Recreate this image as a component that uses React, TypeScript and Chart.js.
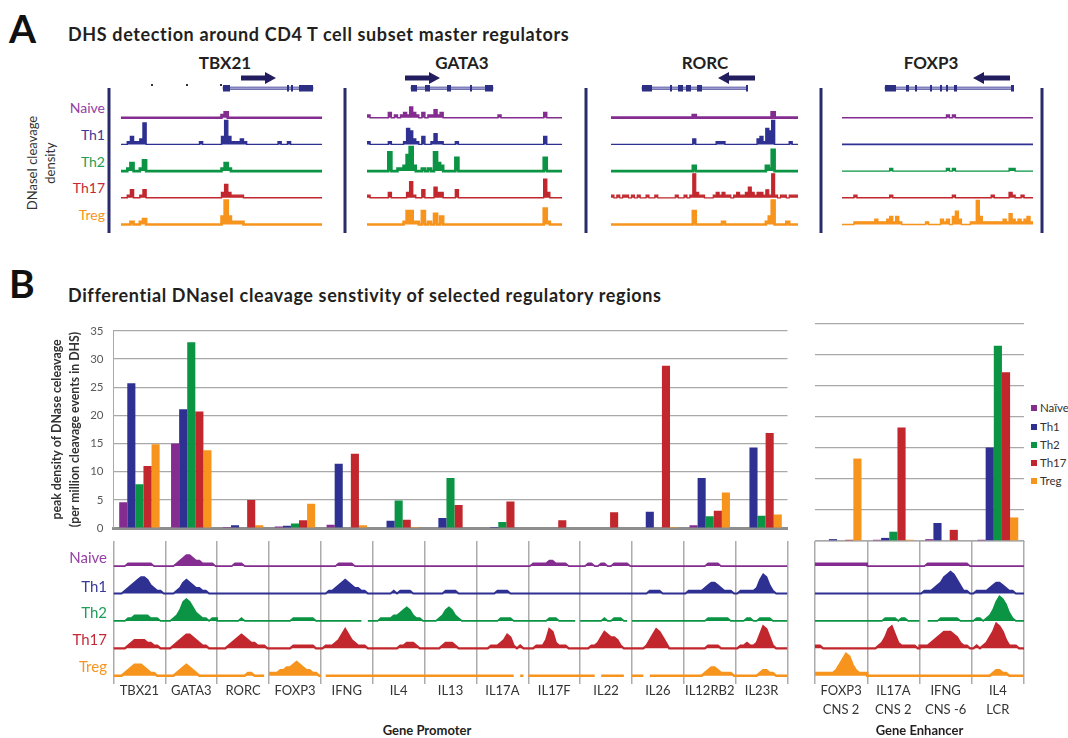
import React, { useEffect, useRef } from "react";
import { Chart, registerables } from "chart.js";

Chart.register(...registerables);

const FONT = "Lato, 'Open Sans', 'Liberation Sans', sans-serif";
Chart.defaults.font.family = FONT;

// ---------------- data ----------------
const seriesNames = ["Naive", "Th1", "Th2", "Th17", "Treg"];
const legendNames = ["Naïve", "Th1", "Th2", "Th17", "Treg"];
const seriesColors = ["#842C90", "#2E3192", "#0B9444", "#C1272D", "#F7941D"];
const labelColors = ["#9440A4", "#383A9A", "#1E9E58", "#C42A36", "#F7941D"];

const promoterCategories = ["TBX21", "GATA3", "RORC", "FOXP3", "IFNG", "IL4", "IL13", "IL17A", "IL17F", "IL22", "IL26", "IL12RB2", "IL23R"];
const enhancerCategories = [["FOXP3", "CNS 2"], ["IL17A", "CNS 2"], ["IFNG", "CNS -6"], ["IL4", "LCR"]];

const naivePromoter = [4.6, 15.0, 0.2, 0.3, 0.6, 0.0, 0.0, 0.1, 0.1, 0.1, 0.1, 0.5, 0.1];
const th1Promoter = [25.7, 21.1, 0.5, 0.4, 11.4, 1.3, 1.8, 0.2, 0.1, 0.1, 2.9, 8.9, 14.3];
const th2Promoter = [7.8, 33.0, 0.1, 0.8, 0.1, 4.9, 8.9, 1.1, 0.0, 0.1, 0.1, 2.1, 2.2];
const th17Promoter = [11.0, 20.7, 5.0, 1.4, 13.2, 1.5, 4.1, 4.7, 1.4, 2.8, 28.8, 3.1, 16.9];
const tregPromoter = [14.9, 13.8, 0.5, 4.3, 0.5, 0.2, 0.1, 0.1, 0.1, 0.1, 0.2, 6.3, 2.4];

const naiveEnhancer = [0.1, 0.2, 0.3, 0.2];
const th1Enhancer = [0.3, 0.5, 2.9, 15.1];
const th2Enhancer = [0.0, 1.5, 0.0, 31.5];
const th17Enhancer = [0.2, 18.3, 1.8, 27.2];
const tregEnhancer = [13.3, 0.2, 0.1, 3.8];

const yTickValues = [0, 5, 10, 15, 20, 25, 30, 35];

// Panel A signal profiles (one char per sample: 0-9 height, order Naive, Th1, Th2, Th17, Treg)
const tbx21Profiles = [
  "0000000000000000" + "0000000000000000" + "1200000000000000" + "0000000000000000",
  "0013112800000000" + "0000000001000000" + "3931112100000000" + "0010010000000000",
  "0013001400000000" + "0000000000000000" + "1310000000000000" + "0000000000000000",
  "0013001300000000" + "0000000000000000" + "2521111000000000" + "0000000000000000",
  "0001001200000000" + "0000000000000000" + "3931111000000000" + "0000000000000000",
];
const gata3Profiles = [
  "1000000201012142" + "1020113120000000" + "0000000000010000" + "0000000000200000",
  "1000000100001652" + "1030014110000100" + "0000000000000000" + "0000000000300000",
  "0000000700112692" + "0010107320000500" + "0000000000000000" + "0000000000500000",
  "1000000200000261" + "0030004220000300" + "0000000000000000" + "0000000000720000",
  "0000000000001551" + "1050104030000000" + "0000000000000000" + "0000000000610000",
];
const rorcProfiles = [
  "0000000000000000" + "0000000000001000" + "0000000000000000" + "0000000200000000",
  "0000000000000000" + "0000000000002000" + "0000111000000000" + "0023165900000100",
  "0000000000000000" + "0000000000002000" + "0000000000000000" + "0000021800000000",
  "1010110101001001" + "0000001001019211" + "0001212110121124" + "2122131910110111",
  "0000000000000000" + "0000000000005000" + "0000001000000000" + "0000013900001000",
];
const foxp3Profiles = [
  "0000000000000000" + "0000000000000000" + "0001010000000000" + "0000000000000000",
  "0000000000000000" + "0000000000000000" + "0000000000000000" + "0000000000000000",
  "0000000000000000" + "1000000000000000" + "0001010000000000" + "0000000011000000",
  "0000100000000000" + "1000000000000000" + "0000010000000000" + "0010000021001000",
  "0000111111121112" + "3131000000001000" + "0212035200011931" + "1111112142121231",
];

// Panel B signal profiles per region (space = gap in track)
const tbx21Track = ["0000111111110000", "0001234566532110", "0000112222211100", "0000123333221100", "0001234443211000"];
const gata3Track = ["0001234432211110", "0001245432211000", "0012478753211011", "0012345543211000", "0001234321000000"];
const rorcTrack = ["0000011100000000", "0000000000000000", "0000000100000000", "0001234543221110", "000000000110000 "];
const foxp3Track = ["0000000000000000", "0000000000000000", "0000000111111100", "0000000111111100", "1112233454322110"];
const ifngTrack = ["0000011111000000", "0011234543221100", "0000000000000 00", "0111235753211100", " 000000000000000"];
const il4Track = ["0000000000000000", "0000001011110000", "0011112234542110", "0000000011222100", "0000000000000000"];
const il13Track = ["0000000000000000", "0000001111000000", "0000124542100000", "0000012221000000", "0000000000000000"];
const il17aTrack = ["0000000000000000", "0000001111000000", "0000000111100000", "0000111235410100", "000000000000 00 "];
const il17fTrack = ["0111112211110000", "0000000000000000", "000000111000000 ", "0011137621110000", "0000000000000000"];
const il22Track = ["0011001100111110", "0000000000000000", "000000010011100 ", "0001124654431000", "00000 00000000  "];
const il26Track = ["0000000000000000", "0000011110000000", "0000000000000000", "0000135764200000", "0000 00000000000"];
const il12rb2Track = ["0000000111100000", "0111112344321110", "0000000111111100", "0000000111100000", "0000001233211110"];
const il23rTrack = ["0000000000000000", "0111112576310000", "0001100111100000", "0112112587410000", "0000000122110000"];

const foxp3Cns2Track = ["1111111111111111", "0000000000000000", "0000000000000000", "1100000000000000", "1111112468742111"];
const il17aCns2Track = ["0000000000000000", "0000000000000000", "0000011110110000", "0001247852111110", "0000000000000000"];
const ifngCns6Track = ["0011111111111110", "0111234678753110", "  00001111110000", "1112345666542110", "0000000000000000"];
const il4LcrTrack = ["0000000000000000", "0111123443211000", "0110124798631000", "0101246986311100", "0000001221100000"];

const promoterTracks = [tbx21Track, gata3Track, rorcTrack, foxp3Track, ifngTrack, il4Track, il13Track, il17aTrack, il17fTrack, il22Track, il26Track, il12rb2Track, il23rTrack];
const enhancerTracks = [foxp3Cns2Track, il17aCns2Track, ifngCns6Track, il4LcrTrack];

// ---------------- helpers ----------------
function buildTrack(regions: string[][], s: number, offset: number) {
  const pts: { x: number; y: number | null }[] = [];
  regions.forEach((profiles, r) => {
    const p = profiles[s];
    const n = p.length;
    for (let j = 0; j < n; j++) {
      const ch = p[j];
      const v = ch === " " ? null : offset + Number(ch);
      if (j === 0) pts.push({ x: r, y: v });
      pts.push({ x: r + (j + 0.5) / n, y: v });
      if (j === n - 1) pts.push({ x: r + 1, y: v });
    }
  });
  return pts;
}

function ChartCanvas({ left, top, width, height, make }: any) {
  const ref = useRef<HTMLCanvasElement>(null);
  useEffect(() => {
    const chart = new Chart(ref.current as HTMLCanvasElement, make());
    return () => chart.destroy();
  }, []);
  return (
    <canvas
      ref={ref}
      width={width}
      height={height}
      style={{ position: "absolute", left, top, width, height }}
    />
  );
}

function barConfig(labels: any[], values: number[][], main: boolean, pad: any, yWidth: number) {
  return {
    type: "bar",
    data: {
      labels,
      datasets: seriesNames.map((n, s) => ({
        label: n,
        data: values[s],
        backgroundColor: seriesColors[s],
        borderWidth: 0,
        categoryPercentage: 0.78,
        barPercentage: 1.0,
      })),
    },
    options: {
      animation: false,
      responsive: false,
      events: [],
      layout: { padding: pad },
      plugins: { legend: { display: false }, tooltip: { enabled: false } },
      scales: {
        x: {
          display: true,
          z: 1,
          grid: { display: false },
          ticks: { display: false },
          border: main ? { display: true, color: "#8e8e8e", width: 3 } : { display: true, color: "#c4c4c4", width: 1 },
          afterFit: (sc: any) => { sc.height = 0; },
        },
        y: {
          min: 0,
          max: 35,
          afterBuildTicks: (sc: any) => { sc.ticks = yTickValues.map((v) => ({ value: v })); },
          ticks: { display: main, color: "#595959", font: { size: 11.5 }, padding: 10 },
          grid: { color: "#a9a9a9", lineWidth: 1.3, drawTicks: false },
          border: { display: main, color: "#a9a9a9", width: 1 },
          title: main
            ? {
                display: true,
                text: ["peak density of DNase celeavage", "(per million cleavage events in DHS)"],
                font: { size: 12.3, weight: "bold", lineHeight: 1.45 },
                color: "#333",
                padding: 0,
              }
            : { display: false },
          afterFit: (sc: any) => { sc.width = yWidth; },
        },
      },
    },
  };
}

function trackConfig(regions: string[][], widths: number[], o: any) {
  const R = regions.length;
  const scales: any = {
    y: { display: false, min: o.yMin, max: o.yMax },
  };
  if (o.labels) {
    scales.x = {
      type: "linear",
      min: 0,
      max: R,
      position: "bottom",
      ticks: { display: false },
      grid: { color: "#acacac", lineWidth: 1.5, drawTicks: false },
      border: { display: false },
      afterBuildTicks: (sc: any) => { sc.ticks = regions.map((_, i) => ({ value: i })).concat([{ value: R }]); },
      afterFit: (sc: any) => { sc.height = 0; },
    };
    scales.x2 = {
      type: "linear",
      min: 0,
      max: R,
      position: "bottom",
      grid: { display: false },
      border: { display: false },
      afterBuildTicks: (sc: any) => { sc.ticks = o.labels.map((_: any, i: number) => ({ value: i + 0.5 })); },
      ticks: {
        autoSkip: false,
        maxRotation: 0,
        color: "#333",
        padding: o.labelPad,
        font: { size: 13, lineHeight: 1.5 },
        callback: (v: number) => o.labels[Math.floor(v)],
      },
      afterFit: (sc: any) => { sc.height = o.labelHeight; },
    };
  } else {
    scales.x = { type: "linear", min: 0, max: R, display: false };
  }
  return {
    type: "line",
    data: {
      datasets: seriesNames.map((n, s) => {
        const off = (4 - s) * 10;
        return {
          label: n,
          data: buildTrack(regions, s, off),
          borderColor: seriesColors[s],
          backgroundColor: seriesColors[s],
          borderWidth: widths[s],
          pointRadius: 0,
          fill: { value: off },
          stepped: o.stepped ? "middle" : false,
          tension: 0,
          spanGaps: false,
        };
      }),
    },
    options: {
      animation: false,
      responsive: false,
      events: [],
      layout: { padding: o.pad },
      plugins: { legend: { display: false }, tooltip: { enabled: false } },
      scales,
    },
  };
}

function T({ x, y, size, bold, color, align, children, style }: any) {
  const s: any = {
    position: "absolute",
    top: y - size * 0.6,
    fontSize: size,
    lineHeight: `${size * 1.2}px`,
    fontWeight: bold ? 700 : 400,
    color: color || "#231f20",
    whiteSpace: "nowrap",
    fontFamily: FONT,
  };
  if (align === "right") s.right = 1068 - x;
  else if (align === "center") { s.left = x; s.transform = "translateX(-50%)"; }
  else s.left = x;
  return <div style={{ ...s, ...(style || {}) }}>{children}</div>;
}

// annotation geometry for the gene models of panel A
const geneModels = [
  { name: "TBX21", cx: 225, arrow: [241, 276], dir: 1, line: [223, 313], exons: [[223, 230], [287, 289], [291, 293], [299, 313]], dots: [151, 186, 220] },
  { name: "GATA3", cx: 462, arrow: [405, 440], dir: 1, line: [411, 493], exons: [[411, 417], [425, 430], [447, 451], [470, 472], [485, 493]], dots: [] },
  { name: "RORC", cx: 705, arrow: [718, 755], dir: -1, line: [642, 747], exons: [[642, 652], [670, 672], [678, 683], [686, 691], [697, 702], [746, 748]], dots: [] },
  { name: "FOXP3", cx: 931, arrow: [973, 1010], dir: -1, line: [885, 1013], exons: [[885, 896], [906, 909], [915, 917], [930, 932], [940, 942], [946, 948], [954, 957], [1011, 1014]], dots: [] },
];
const dividerX = [109, 345, 586, 821, 1042];

const trackAWidths = [
  [2.6, 1.4, 2.6, 1.4, 2.6],
  [1.4, 1.4, 2.6, 1.4, 2.6],
  [2.8, 1.4, 2.6, 1.2, 2.6],
  [1.4, 1.6, 1.4, 1.4, 1.4],
];
const trackAPos = [
  { left: 121, width: 201 },
  { left: 367, width: 195 },
  { left: 611, width: 187 },
  { left: 842, width: 191 },
];
const trackBWidths = [1.6, 1.8, 1.6, 2.2, 2.4];

export default function App() {
  const aProfiles = [tbx21Profiles, gata3Profiles, rorcProfiles, foxp3Profiles];
  const unitA = 2.67;
  const baseA = 224.5;
  const topA = 95;
  const yMaxA = (baseA - topA) / unitA;
  const yMinA = -(229 - baseA) / unitA;

  const unitB = 2.74;
  const baseB = 675.7;
  const topB = 541;
  const bottomB = 684;
  const yMaxB = (baseB - topB) / unitB;
  const yMinB = -(bottomB - baseB) / unitB;

  const trackLabelYA = [108, 135, 162, 188, 215];
  const trackLabelYB = [557, 586, 612, 639, 666];
  const legendY = [408, 427, 445, 463, 481];

  return (
    <div style={{ position: "absolute", left: 0, top: 0, width: 1068, height: 738, overflow: "hidden", background: "#fff", fontFamily: FONT }}>
      <svg width={1068} height={738} style={{ position: "absolute", left: 0, top: 0 }}>
        {dividerX.map((x, i) => (
          <rect key={"d" + i} x={x - 1.5} y={88} width={3} height={145} fill="#2B2A6A" />
        ))}
        {geneModels.map((g, i) => {
          const [a1, a2] = g.arrow;
          const head = 11;
          const arrow =
            g.dir > 0
              ? `${a1},${75.5} ${a2 - head},${75.5} ${a2 - head},${72} ${a2},${78} ${a2 - head},${84} ${a2 - head},${80.5} ${a1},${80.5}`
              : `${a2},${75.5} ${a1 + head},${75.5} ${a1 + head},${72} ${a1},${78} ${a1 + head},${84} ${a1 + head},${80.5} ${a2},${80.5}`;
          return (
            <g key={"g" + i}>
              <polygon points={arrow} fill="#221D5E" />
              <rect x={g.line[0]} y={87} width={g.line[1] - g.line[0]} height={2.6} fill="#9A9CD0" stroke="#3C3D8E" strokeWidth={0.6} />
              {g.exons.map((e, j) => (
                <rect key={j} x={e[0]} y={85} width={e[1] - e[0]} height={6.5} fill="#2D2F82" />
              ))}
              {g.dots.map((d, j) => (
                <rect key={"t" + j} x={d} y={84} width={2} height={2} fill="#333" />
              ))}
            </g>
          );
        })}
      </svg>

      <T x={9} y={28} size={39} bold color="#111">A</T>
      <T x={68} y={35} size={18} bold style={{ letterSpacing: "0.63px" }}>DHS detection around CD4 T cell subset master regulators</T>
      {geneModels.map((g, i) => (
        <T key={"n" + i} x={g.cx} y={63} size={17} bold align="center" color="#231f20">{g.name}</T>
      ))}
      {seriesNames.map((n, s) => (
        <T key={"la" + s} x={105} y={trackLabelYA[s]} size={14} align="right" color={labelColors[s]}>{n}</T>
      ))}
      <div
        style={{
          position: "absolute",
          left: 41 - 70,
          top: 163 - 18,
          width: 140,
          height: 36,
          transform: "rotate(-90deg)",
          textAlign: "center",
          fontSize: 13,
          lineHeight: "18px",
          color: "#333",
          fontFamily: FONT,
        }}
      >
        DNaseI cleavage
        <br />
        density
      </div>

      {aProfiles.map((prof, i) => (
        <ChartCanvas
          key={"a" + i}
          left={trackAPos[i].left}
          top={topA}
          width={trackAPos[i].width}
          height={Math.round(229 - topA)}
          make={() => trackConfig([prof], trackAWidths[i], { stepped: true, yMin: yMinA, yMax: yMaxA, pad: 0 })}
        />
      ))}

      <T x={9} y={283} size={39} bold color="#111">B</T>
      <T x={68} y={296} size={18} bold style={{ letterSpacing: "0.62px" }}>Differential DNaseI cleavage senstivity of selected regulatory regions</T>

      <ChartCanvas
        left={48}
        top={314}
        width={742}
        height={231}
        make={() =>
          barConfig(
            promoterCategories,
            [naivePromoter, th1Promoter, th2Promoter, th17Promoter, tregPromoter],
            true,
            { top: 10, right: 2.5, bottom: 4, left: 0 },
            65.5
          )
        }
      />
      <ChartCanvas
        left={805}
        top={314}
        width={225}
        height={231}
        make={() =>
          barConfig(
            enhancerCategories,
            [naiveEnhancer, th1Enhancer, th2Enhancer, th17Enhancer, tregEnhancer],
            false,
            { top: 10, right: 6, bottom: 4, left: 10 },
            0
          )
        }
      />

      <ChartCanvas
        left={111}
        top={topB}
        width={679}
        height={Math.round(bottomB - topB + 24)}
        make={() =>
          trackConfig(promoterTracks, trackBWidths, {
            stepped: false,
            yMin: yMinB,
            yMax: yMaxB,
            pad: { left: 2.5, right: 2.5, top: 0, bottom: 0 },
            labels: promoterCategories,
            labelHeight: 24,
            labelPad: -11,
          })
        }
      />
      <ChartCanvas
        left={812}
        top={topB}
        width={215}
        height={Math.round(bottomB - topB + 46)}
        make={() =>
          trackConfig(enhancerTracks, trackBWidths, {
            stepped: false,
            yMin: yMinB,
            yMax: yMaxB,
            pad: { left: 3, right: 3, top: 0, bottom: 0 },
            labels: enhancerCategories,
            labelHeight: 46,
            labelPad: -11,
          })
        }
      />

      {seriesNames.map((n, s) => (
        <T key={"lb" + s} x={107} y={trackLabelYB[s]} size={15} align="right" color={labelColors[s]}>{n}</T>
      ))}

      {legendNames.map((n, s) => (
        <React.Fragment key={"lg" + s}>
          <div style={{ position: "absolute", left: 1031, top: legendY[s] - 3, width: 6, height: 6, background: seriesColors[s] }} />
          <T x={1040} y={legendY[s]} size={11.5} color="#333">{n}</T>
        </React.Fragment>
      ))}

      <T x={427} y={731} size={13} bold align="center">Gene Promoter</T>
      <T x={919.5} y={731} size={13} bold align="center">Gene Enhancer</T>
    </div>
  );
}
